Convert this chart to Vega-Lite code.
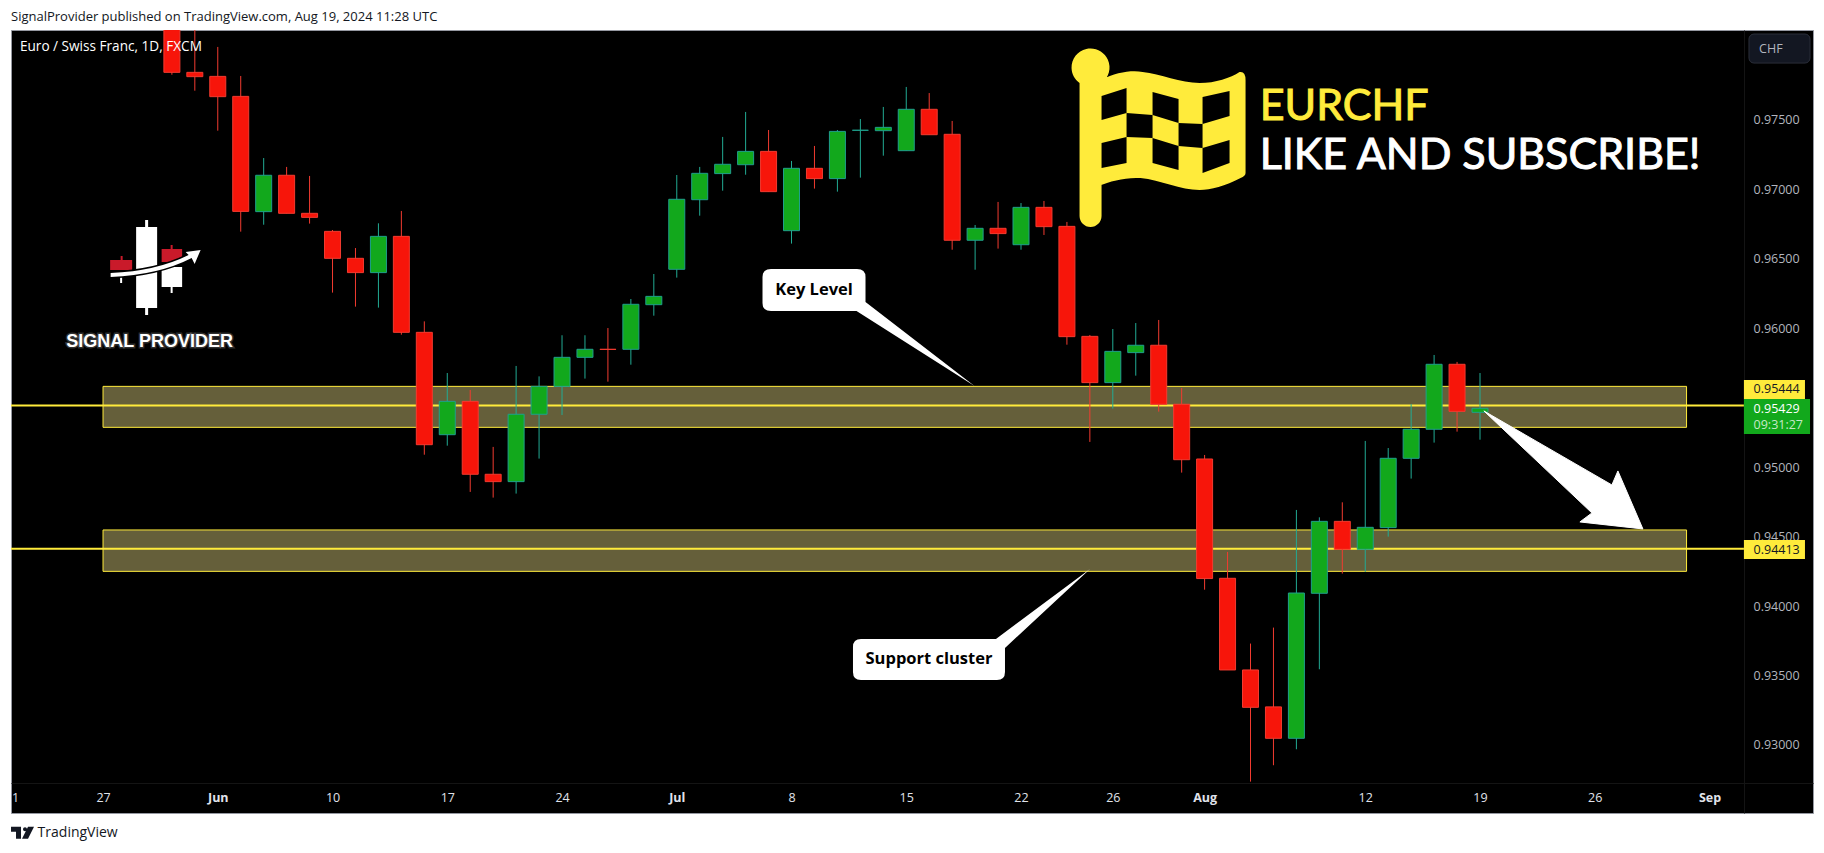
{
  "$schema": "https://vega.github.io/schema/vega-lite/v6.json",
  "description": "EUR/CHF daily candles with key level and support cluster",
  "width": 1802,
  "height": 783,
  "autosize": {"type": "none"},
  "padding": {"left": 11, "top": 30, "right": 11, "bottom": 40},
  "background": "#ffffff",
  "view": {"fill": "#000000", "stroke": "#9598a1", "strokeWidth": 1},
  "config": {"text": {"font": "Open Sans"}},
  "datasets": {
    "candles": [
      {"date":"2024-05-30","bar":3,"open":0.98400,"high":0.98500,"low":0.97826,"close":0.97843},
      {"date":"2024-05-31","bar":4,"open":0.97843,"high":0.98200,"low":0.97711,"close":0.97812},
      {"date":"2024-06-03","bar":5,"open":0.97814,"high":0.98026,"low":0.97423,"close":0.97668},
      {"date":"2024-06-04","bar":6,"open":0.97670,"high":0.97817,"low":0.96696,"close":0.96842},
      {"date":"2024-06-05","bar":7,"open":0.96840,"high":0.97226,"low":0.96746,"close":0.97102},
      {"date":"2024-06-06","bar":8,"open":0.97102,"high":0.97162,"low":0.96828,"close":0.96828},
      {"date":"2024-06-07","bar":9,"open":0.96828,"high":0.97097,"low":0.96754,"close":0.96799},
      {"date":"2024-06-10","bar":10,"open":0.96698,"high":0.96708,"low":0.96257,"close":0.96504},
      {"date":"2024-06-11","bar":11,"open":0.96504,"high":0.96578,"low":0.96156,"close":0.96401},
      {"date":"2024-06-12","bar":12,"open":0.96401,"high":0.96756,"low":0.96149,"close":0.96662},
      {"date":"2024-06-13","bar":13,"open":0.96662,"high":0.96845,"low":0.95954,"close":0.95971},
      {"date":"2024-06-14","bar":14,"open":0.95971,"high":0.96050,"low":0.95090,"close":0.95162},
      {"date":"2024-06-17","bar":15,"open":0.95234,"high":0.95678,"low":0.95155,"close":0.95474},
      {"date":"2024-06-18","bar":16,"open":0.95474,"high":0.95556,"low":0.94822,"close":0.94949},
      {"date":"2024-06-19","bar":17,"open":0.94949,"high":0.95146,"low":0.94781,"close":0.94896},
      {"date":"2024-06-20","bar":18,"open":0.94896,"high":0.95729,"low":0.94810,"close":0.95381},
      {"date":"2024-06-21","bar":19,"open":0.95381,"high":0.95654,"low":0.95062,"close":0.95582},
      {"date":"2024-06-24","bar":20,"open":0.95582,"high":0.95950,"low":0.95376,"close":0.95791},
      {"date":"2024-06-25","bar":21,"open":0.95791,"high":0.95950,"low":0.95638,"close":0.95849},
      {"date":"2024-06-26","bar":22,"open":0.95849,"high":0.96002,"low":0.95616,"close":0.95848},
      {"date":"2024-06-27","bar":23,"open":0.95849,"high":0.96211,"low":0.95738,"close":0.96173},
      {"date":"2024-06-28","bar":24,"open":0.96170,"high":0.96391,"low":0.96091,"close":0.96230},
      {"date":"2024-07-01","bar":25,"open":0.96425,"high":0.97104,"low":0.96365,"close":0.96929},
      {"date":"2024-07-02","bar":26,"open":0.96926,"high":0.97162,"low":0.96811,"close":0.97116},
      {"date":"2024-07-03","bar":27,"open":0.97114,"high":0.97378,"low":0.96991,"close":0.97181},
      {"date":"2024-07-04","bar":28,"open":0.97178,"high":0.97558,"low":0.97106,"close":0.97274},
      {"date":"2024-07-05","bar":29,"open":0.97274,"high":0.97428,"low":0.96984,"close":0.96984},
      {"date":"2024-07-08","bar":30,"open":0.96703,"high":0.97205,"low":0.96610,"close":0.97152},
      {"date":"2024-07-09","bar":31,"open":0.97152,"high":0.97313,"low":0.97006,"close":0.97078},
      {"date":"2024-07-10","bar":32,"open":0.97078,"high":0.97428,"low":0.96984,"close":0.97418},
      {"date":"2024-07-11","bar":33,"open":0.97426,"high":0.97507,"low":0.97085,"close":0.97426},
      {"date":"2024-07-12","bar":34,"open":0.97423,"high":0.97594,"low":0.97243,"close":0.97447},
      {"date":"2024-07-15","bar":35,"open":0.97279,"high":0.97738,"low":0.97279,"close":0.97577},
      {"date":"2024-07-16","bar":36,"open":0.97577,"high":0.97694,"low":0.97394,"close":0.97394},
      {"date":"2024-07-17","bar":37,"open":0.97397,"high":0.97493,"low":0.96566,"close":0.96634},
      {"date":"2024-07-18","bar":38,"open":0.96634,"high":0.96744,"low":0.96422,"close":0.96720},
      {"date":"2024-07-19","bar":39,"open":0.96720,"high":0.96910,"low":0.96574,"close":0.96682},
      {"date":"2024-07-22","bar":40,"open":0.96602,"high":0.96902,"low":0.96566,"close":0.96871},
      {"date":"2024-07-23","bar":41,"open":0.96871,"high":0.96917,"low":0.96672,"close":0.96732},
      {"date":"2024-07-24","bar":42,"open":0.96734,"high":0.96766,"low":0.95882,"close":0.95940},
      {"date":"2024-07-25","bar":43,"open":0.95942,"high":0.95952,"low":0.95182,"close":0.95609},
      {"date":"2024-07-26","bar":44,"open":0.95609,"high":0.95995,"low":0.95422,"close":0.95834},
      {"date":"2024-07-29","bar":45,"open":0.95825,"high":0.96038,"low":0.95659,"close":0.95878},
      {"date":"2024-07-30","bar":46,"open":0.95878,"high":0.96060,"low":0.95400,"close":0.95453},
      {"date":"2024-07-31","bar":47,"open":0.95453,"high":0.95570,"low":0.94961,"close":0.95054},
      {"date":"2024-08-01","bar":48,"open":0.95059,"high":0.95088,"low":0.94118,"close":0.94198},
      {"date":"2024-08-02","bar":49,"open":0.94200,"high":0.94390,"low":0.93540,"close":0.93540},
      {"date":"2024-08-05","bar":50,"open":0.93540,"high":0.93730,"low":0.92736,"close":0.93271},
      {"date":"2024-08-06","bar":51,"open":0.93274,"high":0.93845,"low":0.92854,"close":0.93048},
      {"date":"2024-08-07","bar":52,"open":0.93048,"high":0.94692,"low":0.92969,"close":0.94094},
      {"date":"2024-08-08","bar":53,"open":0.94092,"high":0.94639,"low":0.93545,"close":0.94610},
      {"date":"2024-08-09","bar":54,"open":0.94610,"high":0.94747,"low":0.94234,"close":0.94409},
      {"date":"2024-08-12","bar":55,"open":0.94409,"high":0.95189,"low":0.94246,"close":0.94567},
      {"date":"2024-08-13","bar":56,"open":0.94565,"high":0.95138,"low":0.94500,"close":0.95064},
      {"date":"2024-08-14","bar":57,"open":0.95064,"high":0.95455,"low":0.94918,"close":0.95273},
      {"date":"2024-08-15","bar":58,"open":0.95273,"high":0.95808,"low":0.95177,"close":0.95741},
      {"date":"2024-08-16","bar":59,"open":0.95741,"high":0.95758,"low":0.95256,"close":0.95402},
      {"date":"2024-08-19","bar":60,"open":0.95395,"high":0.95678,"low":0.95198,"close":0.95424}
    ]
  },
  "encoding": {
    "x": {
      "field": "bar",
      "type": "quantitative",
      "title": null,
      "scale": {"domain": [-4.01, 74.51], "nice": false, "zero": false, "padding": 0},
      "axis": {
        "orient": "bottom",
        "offset": -30,
        "values": [-3.83, 0, 5, 10, 15, 20, 25, 30, 35, 40, 44, 48, 55, 60, 65, 70],
        "labelExpr": "{'-3.83':'1','0':'27','5':'Jun','10':'10','15':'17','20':'24','25':'Jul','30':'8','35':'15','40':'22','44':'26','48':'Aug','55':'12','60':'19','65':'26','70':'Sep'}[datum.value]",
        "grid": false,
        "ticks": false,
        "domainColor": "#141414",
        "labelColor": "#e0e3eb",
        "labelFont": "Open Sans",
        "labelFontSize": 12.5,
        "labelFontWeight": {"condition": {"test": "datum.value===5||datum.value===25||datum.value===48||datum.value===70", "value": "bold"}, "value": "normal"},
        "labelPadding": 8,
        "labelOverlap": false,
        "labelFlush": false,
        "labelBound": false
      }
    },
    "y": {
      "field": "price",
      "type": "quantitative",
      "title": null,
      "scale": {"domain": [0.9251, 0.98148], "nice": false, "zero": false},
      "axis": {
        "orient": "right",
        "offset": -69,
        "values": [0.93, 0.935, 0.94, 0.945, 0.95, 0.96, 0.965, 0.97, 0.975],
        "format": ".5f",
        "grid": false,
        "ticks": false,
        "domainColor": "#141414",
        "labelColor": "#b2b5be",
        "labelFont": "Open Sans",
        "labelFontSize": 12.5,
        "labelPadding": 9,
        "labelOverlap": false,
        "labelBound": false
      }
    }
  },
  "layer": [
    {
      "data": {"values": [
        {"zone": "key level", "bar": 0, "bar2": 69, "price": 0.95582, "price2": 0.95287},
        {"zone": "support cluster", "bar": 0, "bar2": 69, "price": 0.94548, "price2": 0.9425}
      ]},
      "mark": {"type": "rect", "fill": "#655f3a", "stroke": "#ffeb3b", "strokeWidth": 1},
      "encoding": {"x2": {"field": "bar2"}, "y2": {"field": "price2"}}
    },
    {
      "data": {"values": [
        {"line": "key", "bar": -4.01, "bar2": 71.5, "price": 0.95444},
        {"line": "support", "bar": -4.01, "bar2": 71.5, "price": 0.94413}
      ]},
      "mark": {"type": "rule", "stroke": "#ffeb3b", "strokeWidth": 2},
      "encoding": {"x2": {"field": "bar2"}}
    },
    {
      "data": {"name": "candles"},
      "mark": {"type": "rule", "strokeWidth": 1, "clip": true},
      "encoding": {
        "y": {"field": "high", "type": "quantitative"},
        "y2": {"field": "low"},
        "stroke": {"condition": {"test": "datum.close>=datum.open", "value": "#22ab94"}, "value": "#f23b30"}
      }
    },
    {
      "data": {"name": "candles"},
      "mark": {"type": "bar", "size": 16, "strokeWidth": 1, "clip": true},
      "encoding": {
        "y": {"field": "open", "type": "quantitative"},
        "y2": {"field": "close"},
        "fill": {"condition": {"test": "datum.close>=datum.open", "value": "#12a81c"}, "value": "#f7150a"},
        "stroke": {"condition": {"test": "datum.close>=datum.open", "value": "#1f9f8c"}, "value": "#f23b30"}
      }
    },
    {
      "data": {"values": [
        {"tag": "key", "bar": 71.5, "bar2": 74.16, "price": 0.95628, "price2": 0.95491},
        {"tag": "support", "bar": 71.5, "bar2": 74.16, "price": 0.94476, "price2": 0.94339}
      ]},
      "mark": {"type": "rect", "fill": "#ffeb3b"},
      "encoding": {"x2": {"field": "bar2"}, "y2": {"field": "price2"}}
    },
    {
      "data": {"values": [{"tag": "last", "bar": 71.5, "bar2": 74.38, "price": 0.95491, "price2": 0.95239}]},
      "mark": {"type": "rect", "fill": "#12a81c"},
      "encoding": {"x2": {"field": "bar2"}, "y2": {"field": "price2"}}
    },
    {
      "data": {"values": [{"tag": "currency", "bar": 71.72, "bar2": 74.38, "price": 0.98119, "price2": 0.9791}]},
      "mark": {"type": "rect", "fill": "#131722", "stroke": "#2a2e39", "cornerRadius": 5},
      "encoding": {"x2": {"field": "bar2"}, "y2": {"field": "price2"}}
    },
    {
      "data": {"values": [
        {"label": "0.95444", "bar": 71.92, "price": 0.9556},
        {"label": "0.94413", "bar": 71.92, "price": 0.94404}
      ]},
      "mark": {"type": "text", "align": "left", "baseline": "middle", "fontSize": 12.5, "fill": "#131722"},
      "encoding": {"text": {"field": "label"}}
    },
    {
      "data": {"values": [{"label": "0.95429", "bar": 71.92, "price": 0.95419}]},
      "mark": {"type": "text", "align": "left", "baseline": "middle", "fontSize": 12.5, "fill": "#ffffff"},
      "encoding": {"text": {"field": "label"}}
    },
    {
      "data": {"values": [{"label": "09:31:27", "bar": 71.92, "price": 0.95304}]},
      "mark": {"type": "text", "align": "left", "baseline": "middle", "fontSize": 12.5, "fill": "#c5e8c7"},
      "encoding": {"text": {"field": "label"}}
    },
    {
      "data": {"values": [{"label": "CHF", "bar": 72.16, "price": 0.98011}]},
      "mark": {"type": "text", "align": "left", "baseline": "middle", "fontSize": 12.5, "fill": "#b2b5be"},
      "encoding": {"text": {"field": "label"}}
    },
    {
      "data": {"values": [{"label": "Euro / Swiss Franc, 1D, FXCM", "bar": -3.62, "price": 0.98026}]},
      "mark": {"type": "text", "align": "left", "baseline": "middle", "fontSize": 13.6, "fill": "#ffffff"},
      "encoding": {"text": {"field": "label"}}
    },
    {
      "data": {"values": [{"label": "SignalProvider published on TradingView.com, Aug 19, 2024 11:28 UTC", "bar": -4.01, "price": 0.98242}]},
      "mark": {"type": "text", "align": "left", "baseline": "middle", "fontSize": 13, "fill": "#131722"},
      "encoding": {"text": {"field": "label"}}
    },
    {
      "data": {"values": [{"label": "TradingView", "bar": -2.85, "price": 0.92367}]},
      "mark": {"type": "text", "align": "left", "baseline": "middle", "fontSize": 14, "fill": "#131722"},
      "encoding": {"text": {"field": "label"}}
    },
    {
      "data": {"values": [{"name": "tradingview logo", "bar": -3.53, "price": 0.92367}]},
      "mark": {"type": "point", "filled": true, "opacity": 1, "size": 4, "fill": "#131722",
        "shape": "M-11,-6 H-1 V6 H-6 V-1 H-11 Z M1,-3.5 A2,2 0 1 1 5,-3.5 A2,2 0 1 1 1,-3.5 Z M6,-6 H12 L6,6 H0 Z"}
    },
    {
      "data": {"values": [{"name": "flag", "bar": 43.03, "price": 0.97874}]},
      "mark": {"type": "point", "filled": true, "opacity": 1, "size": 4, "fill": "#ffeb3b",
        "shape": "M-19,0 A19,19 0 1 1 11,15 V148 A11,11 0 0 1 -11,148 V15 A19,19 0 0 1 -19,0 Z M11,12 C25,4 42,2 52,4 C70,6 90,15 109,15 C125,15 140,10 149,4 Q155,3 155,12 V105 Q155,108 150,110 C135,118 120,122 109,122 C90,122 70,112 50,110 C35,109 20,113 8,118 Z"}
    },
    {
      "data": {"values": [{"name": "flag checks", "bar": 43.03, "price": 0.97874}]},
      "mark": {"type": "point", "filled": true, "opacity": 1, "size": 4, "fill": "#000000",
        "shape": "M11,28 L36,20 V45 L11,52 Z M62,24 L88,31 V55 L62,47 Z M112,29 L139,23 V48 L112,56 Z M36,45 L62,47 V70 L36,69 Z M88,55 L112,56 V80 L88,78 Z M11,75 L36,69 V95 L11,100 Z M62,70 L88,78 V102 L62,95 Z M112,80 L139,72 V95 L112,105 Z"}
    },
    {
      "data": {"values": [{"label": "EURCHF", "bar": 50.4, "price": 0.9759}]},
      "mark": {"type": "text", "align": "left", "baseline": "middle", "font": "Lato", "fontSize": 43, "fill": "#ffeb3b", "stroke": "#ffeb3b", "strokeWidth": 1},
      "encoding": {"text": {"field": "label"}}
    },
    {
      "data": {"values": [{"label": "LIKE AND SUBSCRIBE!", "bar": 50.4, "price": 0.97241}]},
      "mark": {"type": "text", "align": "left", "baseline": "middle", "font": "Lato", "fontSize": 43, "fill": "#ffffff", "stroke": "#ffffff", "strokeWidth": 1},
      "encoding": {"text": {"field": "label"}}
    },
    {
      "data": {"values": [{"name": "logo candles", "bar": 1.9, "price": 0.96442}]},
      "mark": {"type": "point", "filled": true, "opacity": 1, "size": 4, "fill": "#ffffff",
        "shape": "M-10.5,-40 H-1.5 V-47 H1.5 V-40 H10.5 V41 H1.5 V48 H-1.5 V41 H-10.5 Z M15,0 H35.5 V20 H26 V26 H24 V20 H15 Z M-26.5,8 H-24.5 V16 H-26.5 Z"}
    },
    {
      "data": {"values": [{"name": "logo red candles", "bar": 1.9, "price": 0.96442}]},
      "mark": {"type": "point", "filled": true, "opacity": 1, "size": 4, "fill": "#c91a2a",
        "shape": "M-36.5,-7 H-26 V-11 H-24 V-7 H-14.5 V3 H-36.5 Z M15,-18 H24 V-22 H26 V-18 H35.5 V-5 H15 Z"}
    },
    {
      "data": {"values": [{"name": "logo swoosh gap", "bar": 1.9, "price": 0.96442}]},
      "mark": {"type": "point", "filled": true, "opacity": 1, "size": 4, "fill": "#000000", "stroke": "#000000", "strokeWidth": 3,
        "shape": "M-36,6 Q10,4 42,-12 L39,-15 L54,-17 L48,-3 L45,-9 Q12,8 -36,10 Z"}
    },
    {
      "data": {"values": [{"name": "logo swoosh", "bar": 1.9, "price": 0.96442}]},
      "mark": {"type": "point", "filled": true, "opacity": 1, "size": 4, "fill": "#ffffff",
        "shape": "M-36,6 Q10,4 42,-12 L39,-15 L54,-17 L48,-3 L45,-9 Q12,8 -36,10 Z"}
    },
    {
      "data": {"values": [{"label": "SIGNAL PROVIDER", "bar": 2.03, "price": 0.95898}]},
      "mark": {"type": "text", "align": "center", "baseline": "middle", "font": "Liberation Sans", "fontSize": 18, "fontWeight": "bold", "fill": "#ffffff", "stroke": "#ffffff", "strokeWidth": 3, "strokeOpacity": 0.2},
      "encoding": {"text": {"field": "label"}}
    },
    {
      "data": {"values": [{"name": "key level callout", "bar": 30.98, "price": 0.96276}]},
      "mark": {"type": "point", "filled": true, "opacity": 1, "size": 4, "fill": "#ffffff",
        "shape": "M-43,-21 H43 Q51.5,-21 51.5,-13 V12 L160.5,96 L42.5,21 H-43 Q-51.5,21 -51.5,13 V-13 Q-51.5,-21 -43,-21 Z"}
    },
    {
      "data": {"values": [{"name": "support callout", "bar": 35.99, "price": 0.93616}]},
      "mark": {"type": "point", "filled": true, "opacity": 1, "size": 4, "fill": "#ffffff",
        "shape": "M-68,-20.5 H67 L161,-90.5 L76,-11.5 V12.5 Q76,20.5 68,20.5 H-68 Q-76,20.5 -76,12.5 V-12.5 Q-76,-20.5 -68,-20.5 Z"}
    },
    {
      "data": {"values": [
        {"label": "Key Level", "bar": 30.98, "price": 0.96276},
        {"label": "Support cluster", "bar": 35.99, "price": 0.93616}
      ]},
      "mark": {"type": "text", "align": "center", "baseline": "middle", "fontSize": 16.5, "fontWeight": "bold", "fill": "#000000"},
      "encoding": {"text": {"field": "label"}}
    },
    {
      "data": {"values": [{"name": "forecast arrow", "bar": 60.17, "price": 0.95405}]},
      "mark": {"type": "point", "filled": true, "opacity": 1, "size": 4, "fill": "#ffffff", "stroke": "#ffffff", "strokeWidth": 1,
        "shape": "M0,0 L128,74 L134,60 L159,118 L96,111 L108,102 Z"}
    }
  ]
}
